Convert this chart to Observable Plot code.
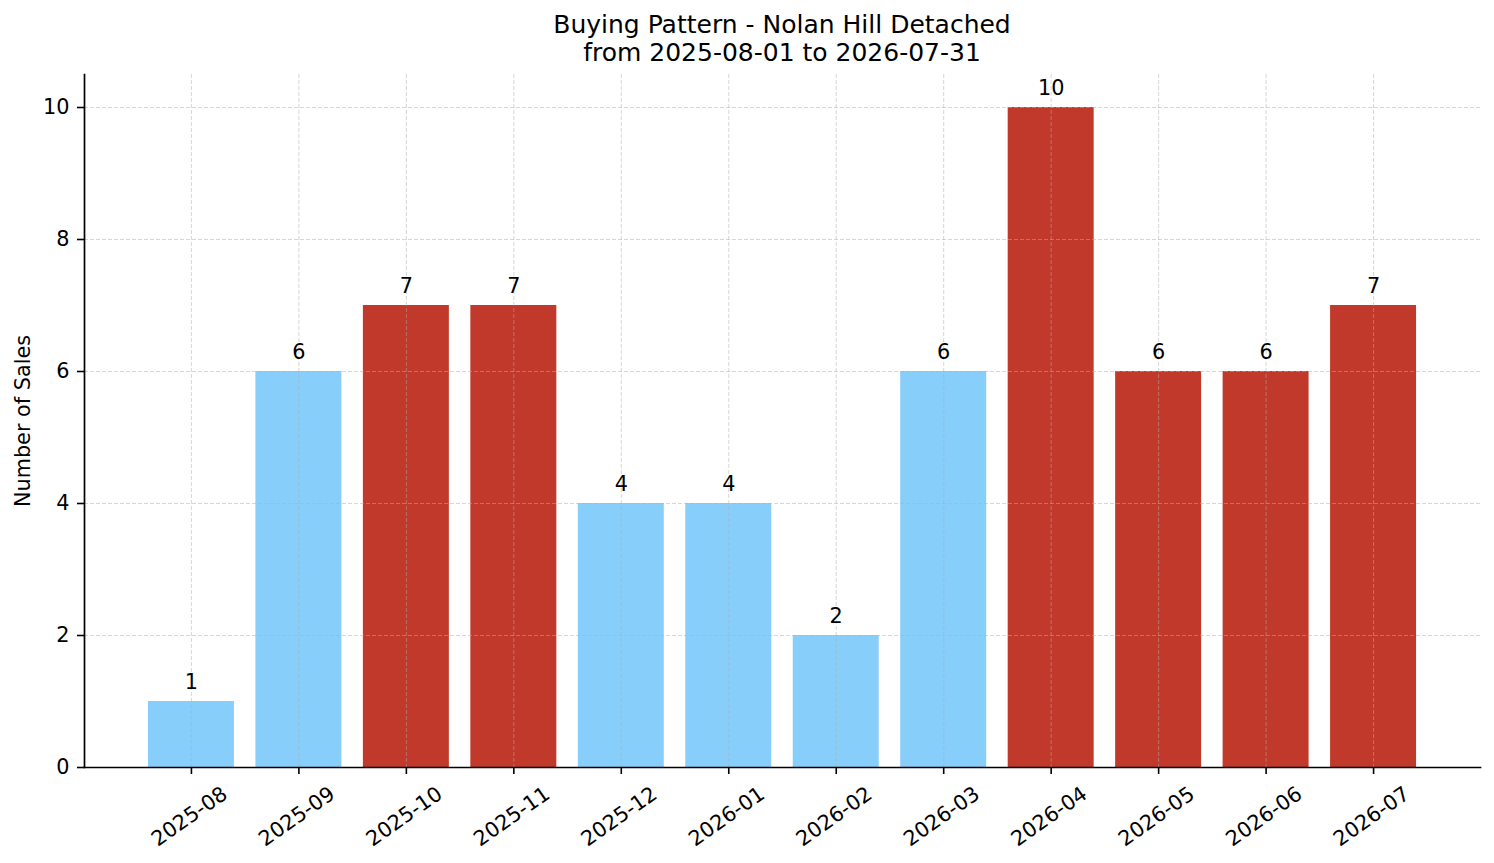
<!DOCTYPE html>
<html>
<head>
<meta charset="utf-8">
<script src="https://cdn.jsdelivr.net/npm/d3@7"></script>
<script src="https://cdn.jsdelivr.net/npm/@observablehq/plot@0.6"></script>
<style>
  html, body { margin: 0; padding: 0; background: #fff; }
  #title {
    box-sizing: border-box; width: 1494px; height: 66px;
    padding: 11px 14px 0 84px; text-align: center;
    font-family: "DejaVu Sans", sans-serif; font-size: 25px; line-height: 28px; color: #000;
  }
  #chart svg { display: block; }
</style>
</head>
<body>
<div id="title">Buying Pattern - Nolan Hill Detached<br>from 2025-08-01 to 2026-07-31</div>
<div id="chart"></div>
<script>
const months = ["2025-08","2025-09","2025-10","2025-11","2025-12","2026-01","2026-02","2026-03","2026-04","2026-05","2026-06","2026-07"];
const sales = [1, 6, 7, 7, 4, 4, 2, 6, 10, 6, 6, 7];
const barColors = ["#87CEFA","#87CEFA","#C0392B","#C0392B","#87CEFA","#87CEFA","#87CEFA","#87CEFA","#C0392B","#C0392B","#C0392B","#C0392B"];
const yTicks = [0, 2, 4, 6, 8, 10];
const yLabel = "Number of Sales";

const data = months.map((m, i) => ({month: m, sales: sales[i], color: barColors[i]}));

const chart = Plot.plot({
  width: 1494,
  height: 797,
  marginTop: 8,
  marginBottom: 96,
  marginLeft: 84,
  marginRight: 14,
  style: {fontFamily: "DejaVu Sans, sans-serif", fontSize: "20.8px", color: "#000", background: "#fff"},
  x: {type: "band", domain: months, paddingInner: 0.2, paddingOuter: 0.595, round: false, label: null},
  y: {domain: [0, 10.5], label: null},
  marks: [
    Plot.barY(data, {x: "month", y: "sales", fill: "color"}),
    Plot.gridX(months, {stroke: "#b0b0b0", strokeOpacity: 0.5, strokeWidth: 1, strokeDasharray: "4,2"}),
    Plot.gridY(yTicks, {stroke: "#b0b0b0", strokeOpacity: 0.5, strokeWidth: 1, strokeDasharray: "4,2"}),
    Plot.axisY(yTicks, {tickSize: 7, tickPadding: 8, strokeWidth: 1.6, label: null, fontSize: 20.8, tickFormat: d => String(d)}),
    Plot.axisX({tickSize: 7, strokeWidth: 1.6, tickFormat: () => "", label: null}),
    Plot.text(months, {x: d => d, frameAnchor: "bottom", dy: 49, dx: -2, rotate: -35, textAnchor: "middle", lineAnchor: "middle", fontSize: 20.8}),
    Plot.text(data, {x: "month", y: "sales", text: d => String(d.sales), lineAnchor: "bottom", dy: -13, fontSize: 20.8}),
    Plot.text([yLabel], {frameAnchor: "left", dx: -61, rotate: -90, lineAnchor: "middle", textAnchor: "middle", fontSize: 20.8}),
    Plot.frame({anchor: "left", stroke: "#000", strokeWidth: 1.7}),
    Plot.frame({anchor: "bottom", stroke: "#000", strokeWidth: 1.7})
  ]
});
document.getElementById("chart").appendChild(chart);
</script>
</body>
</html>
